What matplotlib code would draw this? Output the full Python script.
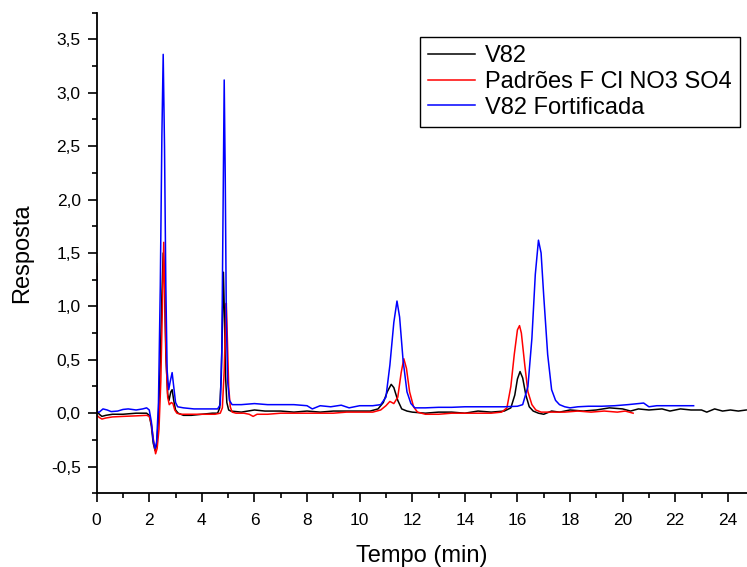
import matplotlib
matplotlib.use("Agg")
import matplotlib.pyplot as plt
from matplotlib.ticker import MultipleLocator, FuncFormatter

# V82 (black)
t_v82 = [0, 0.01, 0.1, 0.2, 0.35, 0.6, 1.0, 1.5, 1.9, 2.0, 2.08, 2.15, 2.22, 2.28, 2.35,
         2.42, 2.48, 2.53, 2.58, 2.63, 2.7, 2.75, 2.82, 2.87, 2.93, 3.0, 3.1, 3.3, 3.6,
         4.0, 4.4, 4.6, 4.68, 4.74, 4.79, 4.82, 4.86, 4.9, 4.95, 5.02, 5.1, 5.5, 6.0,
         6.4, 7.0, 7.5, 8.0, 8.5, 9.0, 9.5, 10.0, 10.4, 10.7, 10.9, 11.05, 11.2, 11.3,
         11.45, 11.6, 11.8, 12.0, 12.5, 13.0, 13.5, 14.0, 14.5, 15.0, 15.5, 15.75, 15.9,
         16.0, 16.1, 16.2, 16.32, 16.45, 16.6, 16.8, 17.0, 17.1, 17.3, 17.6, 18.0, 18.5,
         19.0, 19.5, 20.0, 20.3, 20.6, 21.0, 21.5, 21.8, 22.2, 22.6, 23.0, 23.2, 23.5,
         23.8, 24.1, 24.4, 24.7]
y_v82 = [1.40, 0.02, -0.01, -0.03, -0.02, -0.01, -0.01, 0.0, 0.0, -0.02, -0.12, -0.28,
         -0.35, -0.3, -0.05, 0.5, 1.1, 1.5, 1.2, 0.55, 0.18, 0.12, 0.2, 0.22, 0.12, 0.03,
         0.0, -0.02, -0.02, -0.01, 0.0, 0.0, 0.05, 0.35, 0.95, 1.32, 0.9, 0.35, 0.1, 0.03,
         0.02, 0.01, 0.03, 0.02, 0.02, 0.01, 0.02, 0.01, 0.02, 0.02, 0.02, 0.02, 0.04,
         0.1, 0.2, 0.27, 0.24, 0.12, 0.04, 0.02, 0.01, 0.0, 0.01, 0.01, 0.0, 0.02, 0.01,
         0.02, 0.05, 0.17, 0.32, 0.39, 0.33, 0.17, 0.06, 0.02, 0.0, -0.01, 0.0, 0.02,
         0.01, 0.03, 0.02, 0.03, 0.05, 0.04, 0.02, 0.04, 0.03, 0.04, 0.02, 0.04, 0.03,
         0.03, 0.01, 0.04, 0.02, 0.03, 0.02, 0.03]

# Padroes (red)
t_pad = [0, 0.01, 0.1, 0.2, 0.35, 0.6, 1.0, 1.5, 1.9, 2.0, 2.08, 2.16, 2.24, 2.3, 2.37,
         2.44, 2.5, 2.55, 2.59, 2.64, 2.7, 2.76, 2.84, 2.9, 2.97, 3.05, 3.2, 3.6, 4.0,
         4.5, 4.7, 4.78, 4.85, 4.9, 4.93, 4.97, 5.02, 5.08, 5.15, 5.3, 5.6, 5.8, 5.95,
         6.1, 6.5, 7.0, 7.5, 8.0, 8.5, 9.0, 9.5, 10.0, 10.5, 10.8, 11.0, 11.15, 11.3,
         11.45, 11.58, 11.68, 11.78, 11.9, 12.05, 12.2, 12.5, 13.0, 13.5, 14.0, 14.5,
         15.0, 15.4, 15.6, 15.75, 15.88, 16.0, 16.08, 16.15, 16.28, 16.4, 16.55, 16.7,
         16.9, 17.3, 17.8, 18.3, 18.8, 19.3, 19.8, 20.1, 20.4]
y_pad = [1.37, -0.02, -0.04, -0.055, -0.045, -0.035, -0.03, -0.025, -0.02, -0.03, -0.1,
         -0.25, -0.38, -0.33, -0.15, 0.3, 1.0, 1.6, 1.15, 0.5, 0.15, 0.08, 0.1, 0.09,
         0.03, 0.0, -0.01, -0.01, -0.01, -0.01, 0.0, 0.05, 0.4, 0.85, 1.03, 0.7, 0.25,
         0.06, 0.01, 0.0, 0.0, -0.01, -0.03, -0.01, -0.01, 0.0, 0.0, 0.0, 0.0, 0.0, 0.01,
         0.01, 0.01, 0.03, 0.07, 0.11, 0.09, 0.15, 0.38, 0.51, 0.42, 0.2, 0.06, 0.01,
         -0.01, -0.01, 0.0, 0.0, 0.0, 0.0, 0.01, 0.05, 0.25, 0.55, 0.78, 0.82, 0.75,
         0.45, 0.2, 0.08, 0.03, 0.01, 0.01, 0.01, 0.02, 0.01, 0.02, 0.01, 0.02, 0.0]

# V82 Fortificada (blue)
t_fort = [0, 0.01, 0.1, 0.24, 0.4, 0.55, 0.8, 1.0, 1.2, 1.5, 1.75, 1.9, 2.0, 2.08, 2.15,
          2.22, 2.28, 2.35, 2.42, 2.48, 2.53, 2.58, 2.63, 2.68, 2.74, 2.8, 2.87, 2.93,
          3.0, 3.08, 3.3, 3.7, 4.0, 4.4, 4.6, 4.7, 4.76, 4.81, 4.85, 4.89, 4.93, 4.98,
          5.05, 5.15, 5.5, 6.0, 6.5, 7.0, 7.5, 8.0, 8.2, 8.5, 8.9, 9.3, 9.6, 10.0, 10.5,
          10.8, 11.0, 11.15, 11.3, 11.42, 11.52, 11.65, 11.8, 11.95, 12.1, 12.5, 13.0,
          13.5, 14.0, 14.5, 15.0, 15.5, 16.0, 16.2, 16.4, 16.55, 16.68, 16.8, 16.9, 17.0,
          17.15, 17.3, 17.45, 17.6, 17.8, 18.0, 18.3, 18.7, 19.2, 19.7, 20.2, 20.6, 20.8,
          21.0, 21.3, 21.8, 22.3, 22.7]
y_fort = [1.33, 0.01, 0.01, 0.04, 0.03, 0.015, 0.02, 0.035, 0.04, 0.03, 0.04, 0.05, 0.03,
          -0.08, -0.25, -0.33, -0.27, 0.1, 1.2, 2.6, 3.36, 2.5, 1.2, 0.4, 0.22, 0.3, 0.38,
          0.25, 0.1, 0.06, 0.05, 0.04, 0.04, 0.04, 0.04, 0.08, 0.6, 2.0, 3.12, 2.2, 0.9,
          0.3, 0.12, 0.08, 0.08, 0.09, 0.08, 0.08, 0.08, 0.07, 0.04, 0.07, 0.06, 0.075,
          0.05, 0.07, 0.07, 0.08, 0.15, 0.45, 0.85, 1.05, 0.9, 0.5, 0.2, 0.09, 0.05, 0.05,
          0.055, 0.055, 0.06, 0.06, 0.06, 0.06, 0.065, 0.08, 0.25, 0.7, 1.3, 1.62, 1.5,
          1.1, 0.55, 0.22, 0.12, 0.08, 0.06, 0.05, 0.06, 0.065, 0.065, 0.07, 0.08, 0.09,
          0.095, 0.06, 0.07, 0.07, 0.07, 0.07]

labels = ["V82", "Padrões F Cl NO3 SO4", "V82 Fortificada"]


def comma(v, pos):
    return f"{v:.1f}".replace(".", ",")


plt.rcParams["font.family"] = ["Liberation Sans", "DejaVu Sans"]

fig = plt.figure(figsize=(7.47, 5.67), dpi=100)
ax = fig.add_axes([0.1294, 0.13, 0.8706, 0.8476])

ax.plot(t_v82, y_v82, color="black", lw=1.1, label=labels[0])
ax.plot(t_pad, y_pad, color="#ff0000", lw=1.1, label=labels[1])
ax.plot(t_fort, y_fort, color="#0000ff", lw=1.1, label=labels[2])

ax.set_xlim(0, 24.73)
ax.set_ylim(-0.75, 3.75)
ax.xaxis.set_major_locator(MultipleLocator(2))
ax.xaxis.set_minor_locator(MultipleLocator(1))
ax.yaxis.set_major_locator(MultipleLocator(0.5))
ax.yaxis.set_minor_locator(MultipleLocator(0.25))
ax.yaxis.set_major_formatter(FuncFormatter(comma))

for side in ["top", "right"]:
    ax.spines[side].set_visible(False)
for side in ["left", "bottom"]:
    ax.spines[side].set_linewidth(1.3)

ax.tick_params(which="major", direction="out", length=6.5, width=1.2, labelsize=12.5, pad=5)
ax.tick_params(axis="x", which="major", pad=8)
ax.tick_params(which="minor", direction="out", length=3.3, width=1.2)

ax.set_xlabel("Tempo (min)", fontsize=17, labelpad=12)
ax.set_ylabel("Resposta", fontsize=17, labelpad=13)

leg = ax.legend(loc="upper right", bbox_to_anchor=(0.989, 0.949), borderaxespad=0,
                fontsize=17, frameon=True, fancybox=False, framealpha=1,
                edgecolor="black", handlelength=2.0, handletextpad=0.4,
                labelspacing=0.15, borderpad=0.35)
leg.get_frame().set_linewidth(1.0)

fig.savefig("out.png", dpi=100)
